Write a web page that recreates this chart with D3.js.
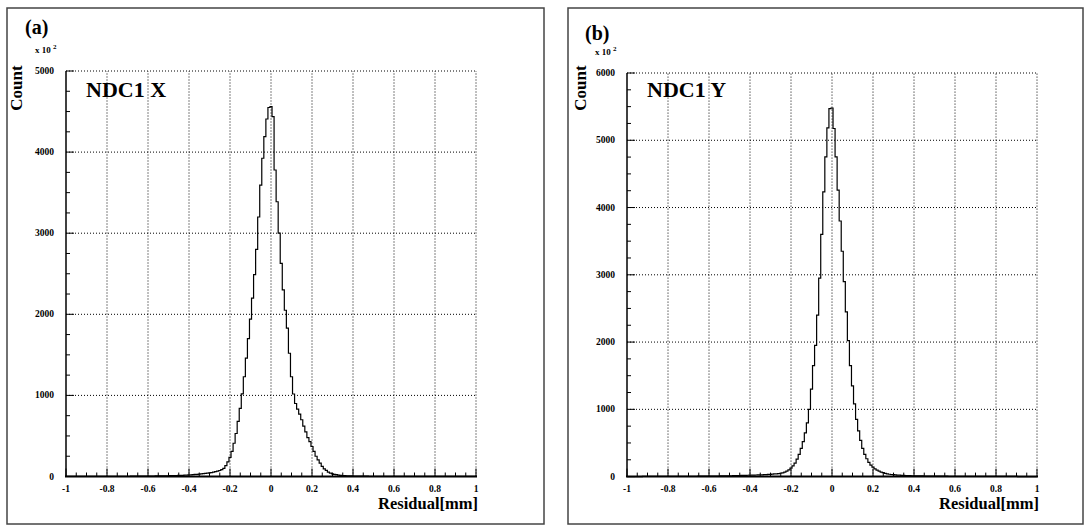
<!DOCTYPE html>
<html><head><meta charset="utf-8">
<script src="https://cdn.jsdelivr.net/npm/d3@7"></script>
<style>
body{margin:0;background:#fff}
svg{display:block}
text{font-family:"Liberation Serif","Times New Roman",serif;font-weight:bold;fill:#000}
</style>
</head><body><svg id="c" width="1089" height="531"></svg>
<script>
// Histogram: 201 bins of 0.01 mm, centred on -1.00 ... 1.00
const binLo = -1.005, binHi = 1.005;
const xRange = [-1, 1];
const countsX = [
1,1,1,1,1,1,1,1,1,1,
1,1,1,1,2,2,2,2,2,2,
2,2,2,2,2,3,3,3,3,3,
3,3,4,4,4,4,4,5,5,5,
5,6,6,6,7,7,7,8,8,9,
9,10,10,11,12,13,14,15,16,17,
19,21,23,25,27,29,32,35,38,41,
44,48,53,59,66,74,85,100,135,180,
235,310,410,530,680,840,1020,1230,1460,1700,
1940,2200,2490,2800,3200,3594,3924,4190,4408,4550,
4560,
4437,3779,3388,3000,2628,2300,2050,1830,1520,1230,
1017,900,830,770,700,620,550,480,430,370,
310,250,205,165,125,95,75,55,42,33,
27,22,18,15,12,10,9,8,7,6,
5,5,5,4,4,4,4,3,3,3,
3,3,3,3,2,2,2,2,2,2,
2,2,2,2,2,1,1,1,1,1,
1,1,1,1,1,1,1,1,1,1,
1,1,1,1,1,1,1,1,1,1,
1,1,1,1,1,1,1,1,1,1
];
const countsY = [
1,1,1,1,1,1,1,1,2,2,
2,2,2,2,2,2,2,2,2,3,
3,3,3,3,3,3,4,4,4,4,
4,5,5,5,5,6,6,6,6,7,
7,7,8,8,9,9,10,10,11,11,
12,13,14,14,15,16,17,18,19,20,
21,22,23,24,25,26,27,28,30,32,
34,37,40,42,45,50,56,68,82,100,
125,160,200,260,330,420,520,650,800,1000,
1300,1650,1950,2400,2950,3600,4233,4753,5184,5470,
5480,
5175,4753,4258,3800,3350,2900,2450,2020,1650,1350,
1080,850,680,540,420,330,265,210,170,140,
115,95,80,68,58,48,40,35,31,28,
25,23,21,19,17,16,15,14,13,12,
11,11,10,10,9,9,8,8,8,7,
7,7,6,6,6,6,5,5,5,5,
5,4,4,4,4,4,4,3,3,3,
3,3,3,3,3,3,2,2,2,2,
2,2,2,2,2,2,2,2,2,2,
1,1,1,1,1,1,1,1,1,1
];
const xTickVals = [-1,-0.8,-0.6,-0.4,-0.2,0,0.2,0.4,0.6,0.8,1];
const xTickLabels = ["-1","-0.8","-0.6","-0.4","-0.2","0","0.2","0.4","0.6","0.8","1"];
const xMinorStep = 0.05;
const yTicksA = [0,1000,2000,3000,4000,5000];
const yTicksB = [0,1000,2000,3000,4000,5000,6000];
const yMinorStep = 250;
const panelTags = ["(a)","(b)"];
const panelTitles = ["NDC1 X","NDC1 Y"];
const xTitle = "Residual[mm]";
const yTitle = "Count";

const svg = d3.select("#c");
svg.append("rect").attr("width",1089).attr("height",531).attr("fill","#fff");

const panels = [
  {counts:countsX, yTicks:yTicksA, tag:panelTags[0], title:panelTitles[0],
   frame:[7,8,544,524], plot:[66,476,71,476.5], tagPos:[25,34], expPos:[35,53], yTitleX:22, titlePos:[86,97]},
  {counts:countsY, yTicks:yTicksB, tag:panelTags[1], title:panelTitles[1],
   frame:[568,8,1083,524], plot:[627,1037,73,476.6], tagPos:[585,40], expPos:[595,55], yTitleX:585.5, titlePos:[647,97]}
];

panels.forEach(p => {
  const g = svg.append("g");
  const [fx0,fy0,fx1,fy1] = p.frame;
  g.append("rect").attr("x",fx0).attr("y",fy0).attr("width",fx1-fx0).attr("height",fy1-fy0)
    .attr("fill","none").attr("stroke","#444").attr("stroke-width",1.5);
  const [L,R,T,B] = p.plot;
  const yMax = p.yTicks[p.yTicks.length-1];
  const x = d3.scaleLinear().domain(xRange).range([L,R]).clamp(true);
  const y = d3.scaleLinear().domain([0,yMax]).range([B,T]);

  // grid (dotted)
  const grid = g.append("g").attr("stroke","#000").attr("stroke-width",1).attr("stroke-dasharray","1,2");
  xTickVals.filter(v => v > xRange[0]).forEach(v => {
    grid.append("line").attr("x1",x(v)).attr("x2",x(v)).attr("y1",B).attr("y2",T);
  });
  p.yTicks.filter(v => v > 0).forEach(v => {
    grid.append("line").attr("x1",L).attr("x2",R).attr("y1",y(v)).attr("y2",y(v));
  });

  // histogram outline
  const n = p.counts.length;
  const bw = (binHi-binLo)/n;
  const pts = [[binLo,0]];
  p.counts.forEach((c,i) => { pts.push([binLo+i*bw,c]); pts.push([binLo+(i+1)*bw,c]); });
  pts.push([binHi,0]);
  g.append("path").attr("d", d3.line().x(d=>x(d[0])).y(d=>y(d[1]))(pts))
    .attr("fill","none").attr("stroke","#000").attr("stroke-width",1.2);

  // axes lines
  g.append("line").attr("x1",L).attr("x2",L).attr("y1",B).attr("y2",T).attr("stroke","#000").attr("stroke-width",1.5);
  g.append("line").attr("x1",L-1).attr("x2",R+1).attr("y1",B).attr("y2",B).attr("stroke","#000").attr("stroke-width",2);

  // ticks
  const tk = g.append("g").attr("stroke","#000").attr("stroke-width",1);
  const nMinorX = Math.round((xRange[1]-xRange[0])/xMinorStep);
  for (let i=0;i<=nMinorX;i++){
    const v = xRange[0] + i*xMinorStep;
    const major = (i % 4) === 0;
    tk.append("line").attr("x1",x(v)).attr("x2",x(v)).attr("y1",B).attr("y2",B-(major?8:4));
  }
  const nMinorY = Math.round(yMax/yMinorStep);
  for (let i=0;i<=nMinorY;i++){
    const v = i*yMinorStep;
    const major = (i % 4) === 0;
    tk.append("line").attr("x1",L).attr("x2",L+(major?8:4)).attr("y1",y(v)).attr("y2",y(v));
  }

  // tick labels
  xTickVals.forEach((v,i) => {
    g.append("text").attr("x",x(v)).attr("y",B+15).attr("text-anchor","middle")
      .attr("font-size",9.5).text(xTickLabels[i]);
  });
  p.yTicks.forEach(v => {
    g.append("text").attr("x",L-12).attr("y",y(v)+3).attr("text-anchor","end")
      .attr("font-size",9.5).text(String(v));
  });

  // titles
  g.append("text").attr("x",R+2).attr("y",509).attr("text-anchor","end").attr("font-size",16.5).text(xTitle);
  g.append("text").attr("transform",`translate(${p.yTitleX},88) rotate(-90)`).attr("text-anchor","middle")
    .attr("font-size",17).text(yTitle);
  g.append("text").attr("x",p.tagPos[0]).attr("y",p.tagPos[1]).attr("font-size",20).text(p.tag);
  const ex = g.append("text").attr("x",p.expPos[0]).attr("y",p.expPos[1]).attr("font-size",9);
  ex.append("tspan").text("x 10 ");
  ex.append("tspan").attr("dy",-4).attr("font-size",7).text("2");
  g.append("text").attr("x",p.titlePos[0]).attr("y",p.titlePos[1]).attr("font-size",22).text(p.title);
});
</script>
</body></html>
